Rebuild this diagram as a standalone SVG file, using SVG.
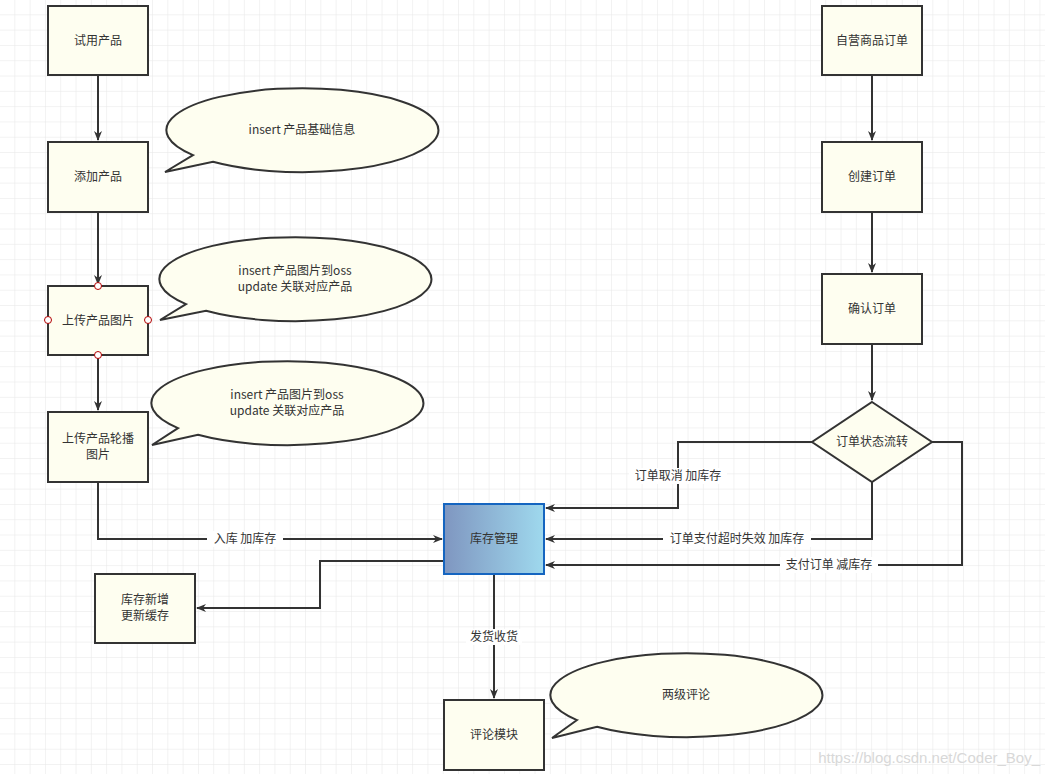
<svg xmlns="http://www.w3.org/2000/svg" width="1045" height="774" viewBox="0 0 1045 774">
<defs>
<pattern id="grid" width="15.3" height="15.3" patternUnits="userSpaceOnUse"><path d="M15.3 0V15.3H0" fill="none" stroke="#e6e6e6" stroke-width="1"/></pattern>
<linearGradient id="g" x1="0" x2="1" y1="0" y2="0"><stop offset="0" stop-color="#7f96c0"/><stop offset="1" stop-color="#9fd9ee"/></linearGradient>
<marker id="a" markerWidth="10" markerHeight="10" refX="9" refY="5" orient="auto" markerUnits="userSpaceOnUse"><path d="M0,1 L10,5 L0,9 L3,5 Z" fill="#333"/></marker>
<style>
.b{fill:#fefef0;stroke:#333;stroke-width:2}
.t{font-family:"Noto Sans CJK SC","Liberation Sans",sans-serif;font-size:12px;fill:#333;text-anchor:middle}
.c{fill:none;stroke:#333;stroke-width:2;marker-end:url(#a)}
.l{fill:#fff}
.p{fill:#fff;stroke:#b20000;stroke-width:1}
</style>
</defs>
<rect width="1045" height="774" fill="#fff"/>
<rect width="1045" height="774" fill="url(#grid)"/>
<g id="connectors">
<path class="c" d="M98,75V140"/>
<path class="c" d="M98,212V284"/>
<path class="c" d="M98,355V410"/>
<path class="c" d="M98,482V539H442"/>
<path class="c" d="M444,561H320V608H197"/>
<path class="c" d="M494,574V698"/>
<path class="c" d="M872,75V140"/>
<path class="c" d="M872,212V272"/>
<path class="c" d="M872,344V400"/>
<path class="c" d="M812,442H678V508H546"/>
<path class="c" d="M872,482V539H546"/>
<path class="c" d="M932,442H962V565H546"/>
<rect class="l" x="207" y="531" width="76" height="16"/><text class="t" x="245" y="543">入库 加库存</text>
<rect class="l" x="629" y="468" width="98" height="16"/><text class="t" x="678" y="480">订单取消 加库存</text>
<rect class="l" x="663" y="531" width="148" height="16"/><text class="t" x="737" y="543">订单支付超时失效 加库存</text>
<rect class="l" x="780" y="557" width="98" height="16"/><text class="t" x="829" y="569">支付订单 减库存</text>
<rect class="l" x="466" y="629" width="56" height="16"/><text class="t" x="494" y="641">发货收货</text>
</g>
<g id="n1"><rect class="b" x="48" y="6" width="100" height="69"/><text class="t" x="98" y="45">试用产品</text></g>
<g id="n2"><rect class="b" x="48" y="142" width="100" height="70"/><text class="t" x="98" y="181">添加产品</text></g>
<g id="n3"><rect class="b" x="48" y="286" width="100" height="69"/><text class="t" x="98" y="325">上传产品图片</text>
<circle class="p" cx="98" cy="286" r="3.5"/><circle class="p" cx="48" cy="320" r="3.5"/><circle class="p" cx="148" cy="320" r="3.5"/><circle class="p" cx="98" cy="355" r="3.5"/></g>
<g id="n4"><rect class="b" x="48" y="412" width="100" height="70"/><text class="t" x="98" y="443">上传产品轮播</text><text class="t" x="98" y="459">图片</text></g>
<g id="n5"><rect class="b" x="95" y="574" width="100" height="69"/><text class="t" x="145" y="604">库存新增</text><text class="t" x="145" y="620">更新缓存</text></g>
<g id="n6"><rect x="444" y="504" width="100" height="70" fill="url(#g)" stroke="#1565c0" stroke-width="2"/><text class="t" x="494" y="543">库存管理</text></g>
<g id="n7"><rect class="b" x="444" y="700" width="100" height="70"/><text class="t" x="494" y="739">评论模块</text></g>
<g id="n8"><rect class="b" x="822" y="6" width="100" height="69"/><text class="t" x="872" y="45">自营商品订单</text></g>
<g id="n9"><rect class="b" x="822" y="142" width="100" height="70"/><text class="t" x="872" y="181">创建订单</text></g>
<g id="n10"><rect class="b" x="822" y="274" width="100" height="70"/><text class="t" x="872" y="313">确认订单</text></g>
<g id="n11"><path class="b" d="M872,402L932,442L872,482L812,442Z"/><text class="t" x="872" y="446">订单状态流转</text></g>
<g id="c1"><path class="b" d="M213,161.8 A136,42 0 1 0 193,155.1 L165,172 Z"/><text class="t" x="302" y="134">insert 产品基础信息</text></g>
<g id="c2"><path class="b" d="M206,310.8 A136,42 0 1 0 186,304.1 L160,320 Z"/><text class="t" x="295" y="275">insert 产品图片到oss</text><text class="t" x="295" y="291">update 关联对应产品</text></g>
<g id="c3"><path class="b" d="M198,434.8 A136,42 0 1 0 178,428.1 L152,445 Z"/><text class="t" x="287" y="399">insert 产品图片到oss</text><text class="t" x="287" y="415">update 关联对应产品</text></g>
<g id="c4"><path class="b" d="M597,726.8 A136,42 0 1 0 577,720.1 L552,738 Z"/><text class="t" x="686" y="699">两级评论</text></g>
<text x="1040" y="763" font-family="Liberation Sans,sans-serif" font-size="15" fill="#d8d8d8" text-anchor="end">https://blog.csdn.net/Coder_Boy_</text>
</svg>
